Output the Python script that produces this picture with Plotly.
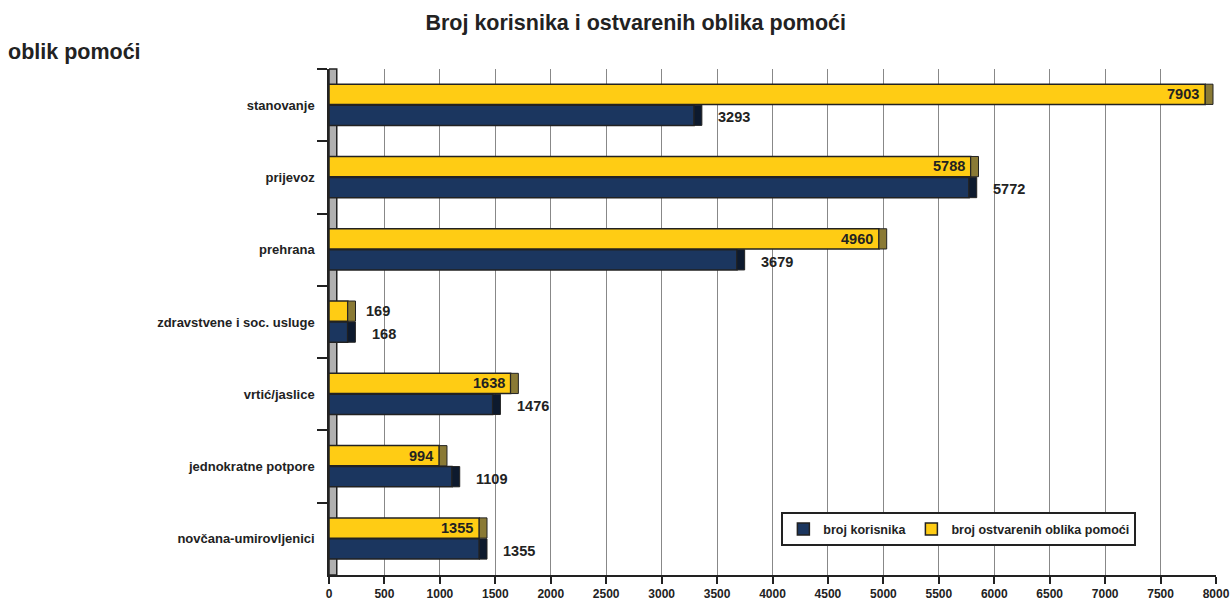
import plotly.graph_objects as go

categories = ["stanovanje", "prijevoz", "prehrana", "zdravstvene i soc. usluge",
              "vrtić/jaslice", "jednokratne potpore", "novčana-umirovljenici"]
korisnika = [3293, 5772, 3679, 168, 1476, 1109, 1355]
oblika = [7903, 5788, 4960, 169, 1638, 994, 1355]
x_ticks = list(range(0, 8001, 500))

NAVY = "#1b365f"
YELLOW = "#ffcc14"
OUTLINE = "#222222"
FONT = "Liberation Sans, Arial, sans-serif"

BAR_W = 0.28
DEPTH = 70  # side face of the 3D bars, in axis units

fig = go.Figure()

# main bars
fig.add_trace(go.Bar(y=categories, x=korisnika, orientation="h", name="broj korisnika",
                     marker=dict(color=NAVY, line=dict(color=OUTLINE, width=1.5)),
                     offset=0.0, width=BAR_W))
fig.add_trace(go.Bar(y=categories, x=oblika, orientation="h", name="broj ostvarenih oblika pomoći",
                     marker=dict(color=YELLOW, line=dict(color=OUTLINE, width=1.5)),
                     offset=-BAR_W - 0.01, width=BAR_W))

# side faces for the 3D look
fig.add_trace(go.Bar(y=categories, x=[DEPTH] * len(korisnika), base=korisnika, orientation="h",
                     marker=dict(color="#0d1a2e", line=dict(color=OUTLINE, width=1)),
                     offset=0.0, width=BAR_W, showlegend=False, hoverinfo="skip"))
fig.add_trace(go.Bar(y=categories, x=[DEPTH] * len(oblika), base=oblika, orientation="h",
                     marker=dict(color="#8a7a35", line=dict(color=OUTLINE, width=1)),
                     offset=-BAR_W - 0.01, width=BAR_W, showlegend=False, hoverinfo="skip"))

# value labels
lab_font = dict(family=FONT, size=14.5, color="#222222", weight="bold")
for cat, v in zip(categories, oblika):
    if v > 600:
        fig.add_annotation(x=v, y=cat, text=str(v), showarrow=False, xanchor="right",
                           xshift=-4, yshift=11, font=lab_font)
    else:
        fig.add_annotation(x=v, y=cat, text=str(v), showarrow=False, xanchor="left",
                           xshift=16, yshift=11, font=lab_font)
for cat, v in zip(categories, korisnika):
    fig.add_annotation(x=v, y=cat, text=str(v), showarrow=False, xanchor="left",
                       xshift=22, yshift=-12, font=lab_font)

# grey wall on the left
fig.add_shape(type="rect", xref="x", yref="paper", x0=0, x1=DEPTH, y0=0, y1=1,
              fillcolor="#b0b0b0", line=dict(color=OUTLINE, width=1.5), layer="below")

fig.add_annotation(text="oblik pomoći", xref="paper", yref="paper", x=-0.364, y=1.033,
                   xanchor="left", yanchor="middle", showarrow=False,
                   font=dict(family=FONT, size=21.5, color="#222222", weight="bold"))

fig.update_layout(
    template="none",
    width=1232, height=601,
    margin=dict(l=329, r=16, t=69, b=26),
    barmode="overlay",
    paper_bgcolor="white", plot_bgcolor="white",
    title=dict(text="Broj korisnika i ostvarenih oblika pomoći", x=0.516, xanchor="center",
               y=0.963, yanchor="middle",
               font=dict(family=FONT, size=21.5, color="#222222", weight="bold")),
    legend=dict(orientation="h", x=0.51, y=0.124, xanchor="left", yanchor="top",
                bgcolor="white", bordercolor=OUTLINE, borderwidth=2,
                font=dict(family=FONT, size=12.5, color="#222222", weight="bold"),
                itemwidth=30, traceorder="normal"),
    showlegend=True,
)
fig.update_xaxes(range=[0, 8000], tickvals=x_ticks, showgrid=True, gridcolor="#888888",
                 gridwidth=1, zeroline=False, showline=True, linecolor=OUTLINE, linewidth=2,
                 ticks="outside", ticklen=7, tickcolor=OUTLINE, tickwidth=1.5,
                 tickfont=dict(family=FONT, size=12, color="#222222", weight="bold"),
                 automargin=False)
fig.update_yaxes(autorange="reversed", tickson="boundaries", ticks="outside", ticklen=10,
                 tickcolor=OUTLINE, tickwidth=1.5, showline=True, linecolor=OUTLINE,
                 linewidth=1.5, showgrid=False, ticklabelstandoff=10,
                 tickfont=dict(family=FONT, size=13, color="#222222", weight="bold"),
                 automargin=False)

fig.write_html("out.html", config={"displayModeBar": False},
               post_script="document.body.style.margin='0';document.body.style.overflow='hidden';")
